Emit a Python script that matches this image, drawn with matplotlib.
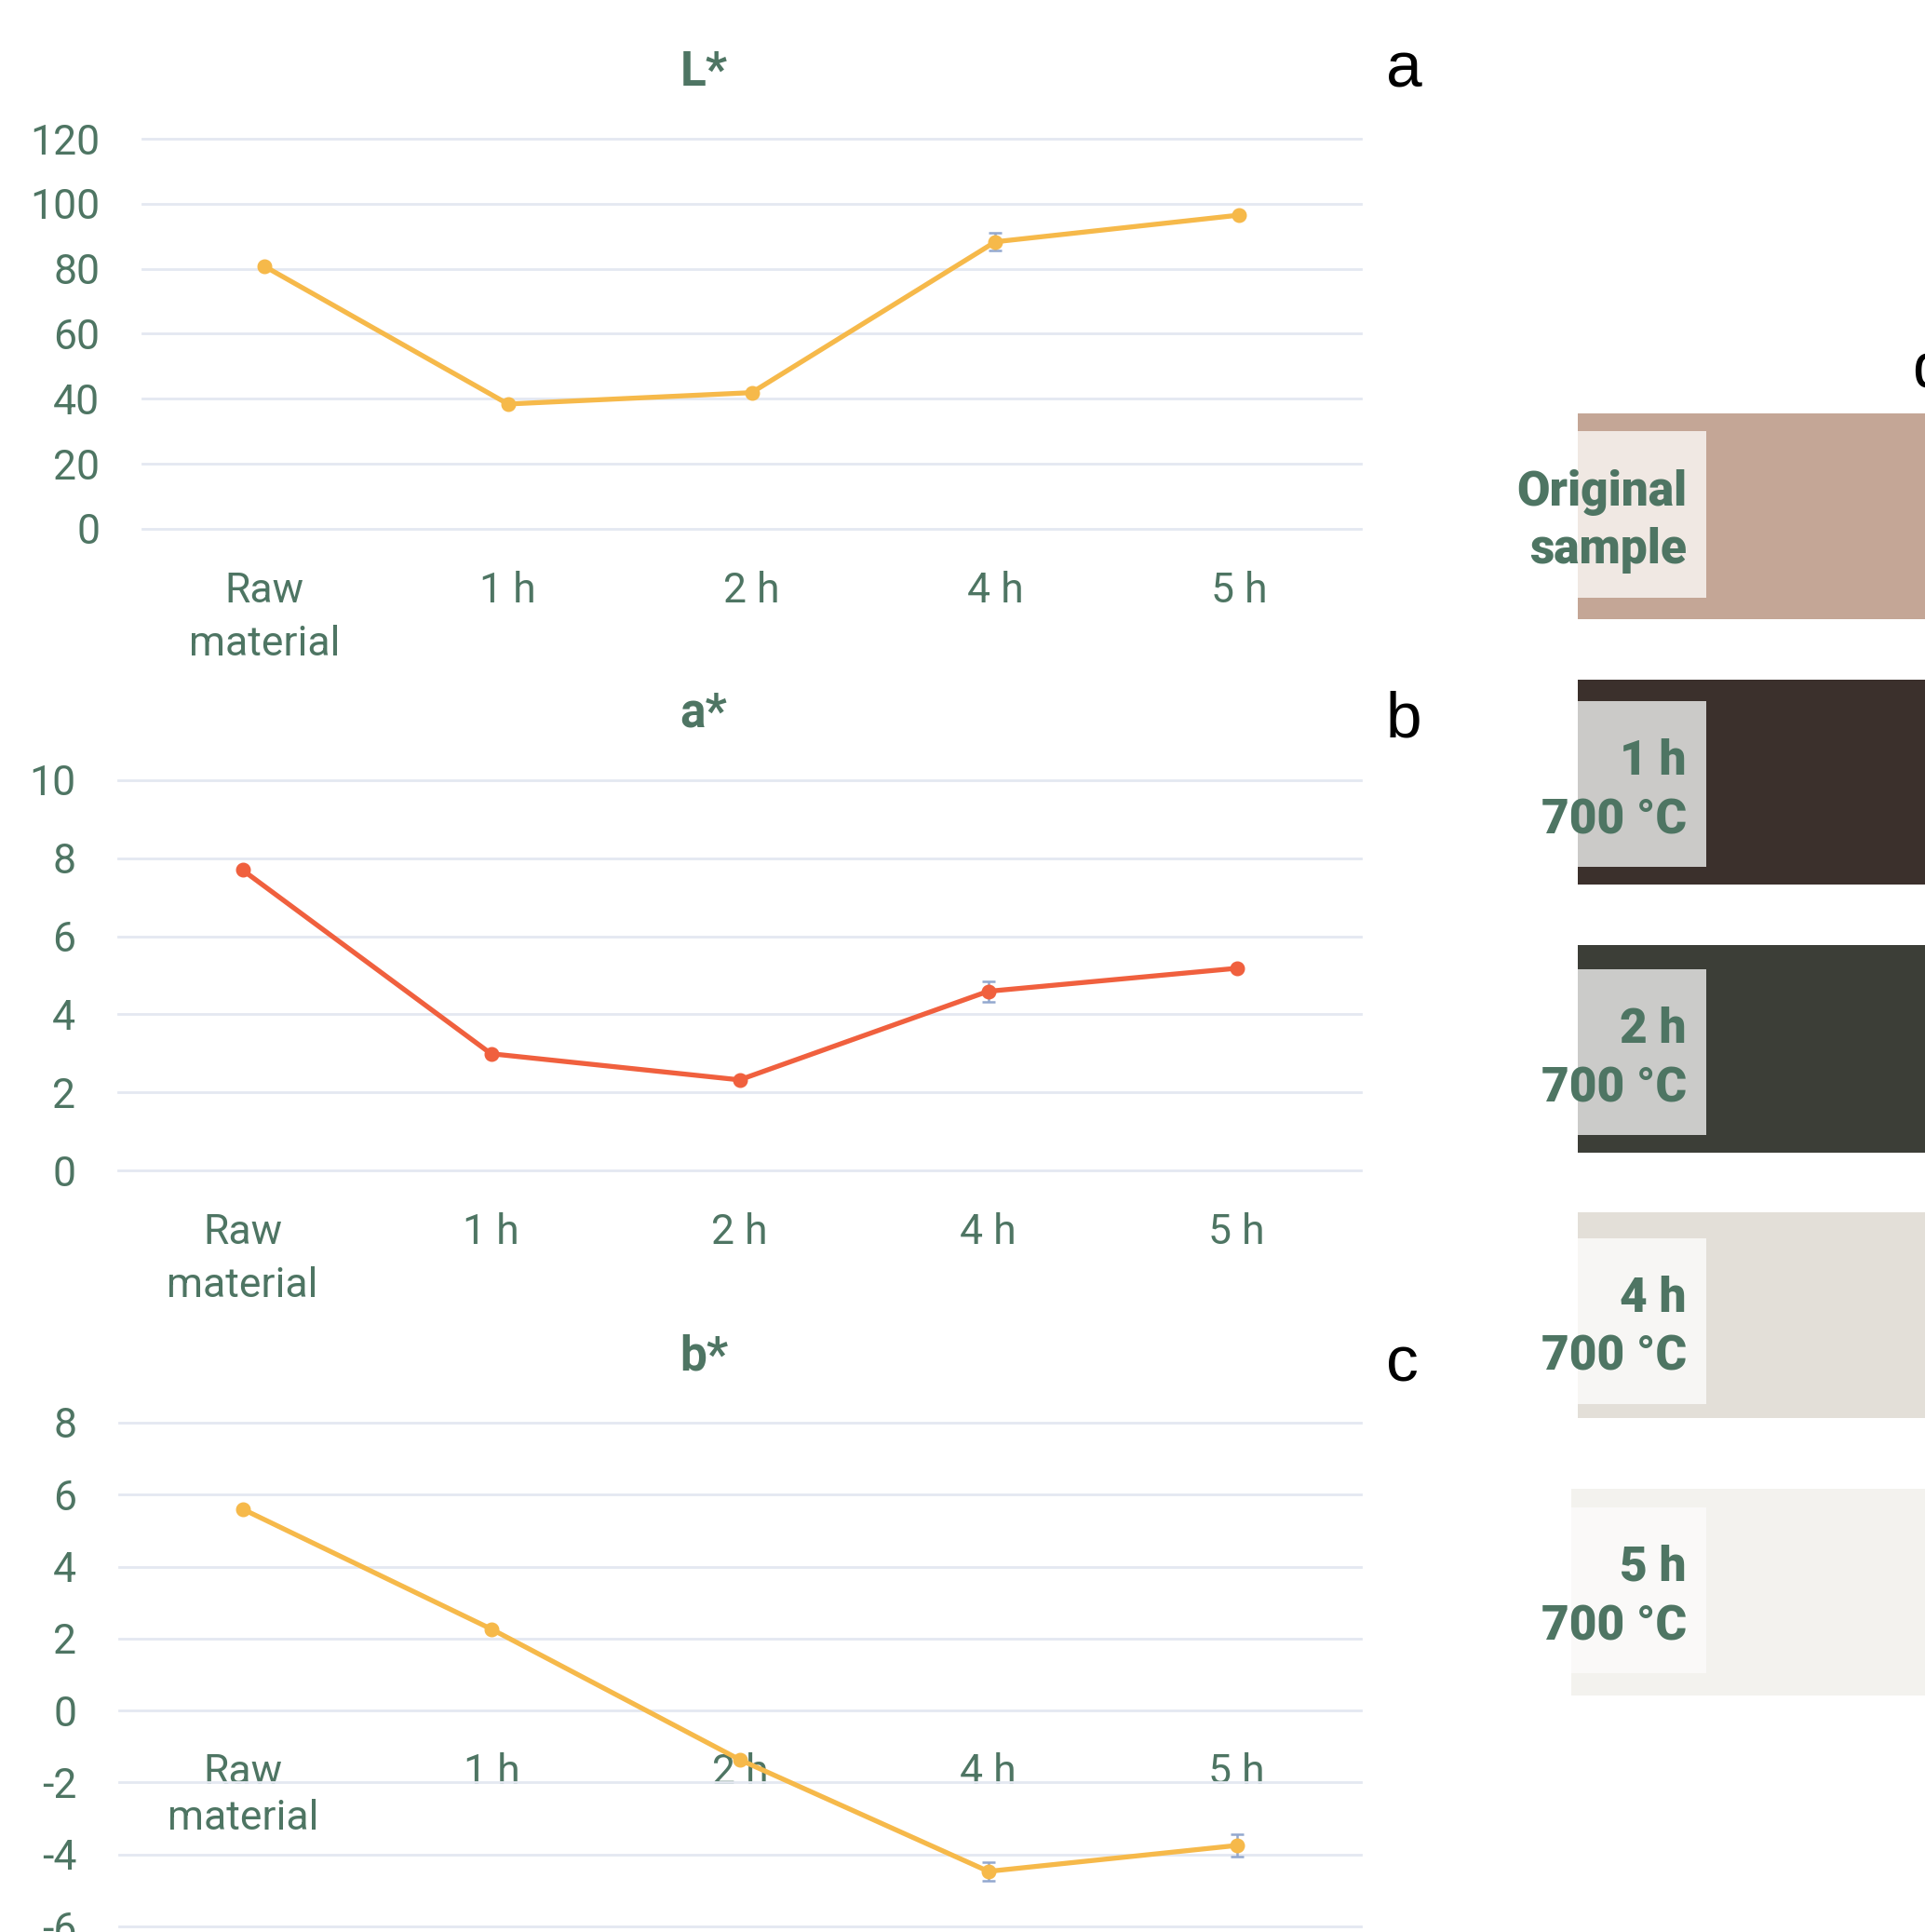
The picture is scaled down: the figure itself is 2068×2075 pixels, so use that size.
import matplotlib
matplotlib.use("Agg")
import matplotlib.pyplot as plt
from matplotlib.patches import Rectangle

# ---- data -------------------------------------------------------------
categories = ["Raw\nmaterial", "1 h", "2 h", "4 h", "5 h"]

L_values = [80.8, 38.4, 41.9, 88.3, 96.5]
L_errors = [0.5, 0.5, 0.5, 2.7, 0.5]

a_values = [7.70, 2.99, 2.32, 4.59, 5.18]
a_errors = [0.05, 0.05, 0.05, 0.26, 0.05]

b_values = [5.59, 2.26, -1.37, -4.47, -3.75]
b_errors = [0.05, 0.05, 0.05, 0.25, 0.32]

L_ticks = [0, 20, 40, 60, 80, 100, 120]
a_ticks = [0, 2, 4, 6, 8, 10]
b_ticks = [-6, -4, -2, 0, 2, 4, 6, 8]

swatch_labels = ["Original\nsample", "1 h\n700 °C", "2 h\n700 °C",
                 "4 h\n700 °C", "5 h\n700 °C"]
swatch_colors = ["#C4A696", "#3B302C", "#3C3E37", "#E3DFD8", "#F3F2EE"]
label_box_colors = ["#F0E8E3", "#CBCAC8", "#CBCBC9", "#F7F6F4", "#FAF9F8"]

# ---- styling ----------------------------------------------------------
W, H = 2068, 2075
TEXT_GREEN = "#4E7563"
GRID = "#E4E8F1"
YELLOW = "#F6B94A"
RED = "#F0603E"
ERR = "#93A8CF"

plt.rcParams["font.family"] = ["Roboto", "DejaVu Sans"]

fig = plt.figure(figsize=(W / 100, H / 100), dpi=100)
fig.patch.set_facecolor("white")


def px_axes(left, top, right, bottom):
    return fig.add_axes([left / W, 1 - bottom / H,
                         (right - left) / W, (bottom - top) / H])


def style_panel(ax, values, errors, color, ticks, title, title_y):
    x = list(range(len(categories)))
    ax.errorbar(x, values, yerr=errors, fmt="none", ecolor=ERR,
                elinewidth=1.8, capsize=5, capthick=1.8, zorder=3)
    ax.plot(x, values, color=color, lw=3.8, marker="o", ms=10.5,
            zorder=4, solid_capstyle="round")
    ax.set_xlim(-0.5, len(categories) - 0.5)
    ax.set_ylim(ticks[0], ticks[-1])
    ax.set_yticks(ticks)
    ax.set_yticklabels([str(t) for t in ticks])
    ax.set_xticks(x)
    ax.set_xticklabels(categories, linespacing=1.45)
    for s in ax.spines.values():
        s.set_visible(False)
    ax.tick_params(axis="y", length=0, pad=33, labelsize=32,
                   labelcolor=TEXT_GREEN)
    ax.tick_params(axis="x", length=0, pad=33, labelsize=32,
                   labelcolor=TEXT_GREEN)
    ax.yaxis.grid(True, color=GRID, lw=2)
    ax.xaxis.grid(False)
    ax.set_axisbelow(True)
    for gl in ax.get_ygridlines():
        gl.set_clip_on(False)
    ax.patch.set_alpha(0)
    fig.text(756 / W, 1 - title_y / H, title, ha="center", va="baseline",
             fontsize=37, fontweight="bold", color=TEXT_GREEN)


ax1 = px_axes(153, 149, 1462, 568)
style_panel(ax1, L_values, L_errors, YELLOW, L_ticks, "L*", 92)

ax2 = px_axes(127, 838, 1462, 1257)
style_panel(ax2, a_values, a_errors, RED, a_ticks, "a*", 780)

ax3 = px_axes(128, 1528, 1462, 2069)
style_panel(ax3, b_values, b_errors, YELLOW, b_ticks, "b*", 1471)
# category labels sit on the zero line
ax3.spines["bottom"].set_position(("data", 0))
ax3.spines["bottom"].set_visible(False)

# ---- panel letters and colour swatches --------------------------------
ov = fig.add_axes([0, 0, 1, 1], zorder=-1)
ov.set_xlim(0, W)
ov.set_ylim(H, 0)
ov.axis("off")

for letter, (lx, ly) in zip(["a", "b", "c", "d"],
                            [(1489, 94), (1489, 791), (1489, 1483),
                             (2054, 415)]):
    ov.text(lx, ly, letter, ha="left", va="baseline", fontsize=50,
            color="black", family=["Liberation Sans", "DejaVu Sans"])

outer_boxes = [(1695, 444, 665), (1695, 730, 950), (1695, 1015, 1238),
               (1695, 1302, 1523), (1688, 1599, 1821)]
inner_boxes = [(463, 642), (753, 931), (1041, 1219), (1330, 1508),
               (1619, 1797)]

for label, col, icol, (ox, ot, ob), (it, ib) in zip(
        swatch_labels, swatch_colors, label_box_colors,
        outer_boxes, inner_boxes):
    ov.add_patch(Rectangle((ox, ot), W - ox, ob - ot, facecolor=col,
                           edgecolor="none"))
    ov.add_patch(Rectangle((ox, it), 1833 - ox, ib - it, facecolor=icol,
                           edgecolor="none"))
    c = (it + ib) / 2
    first, second = label.split("\n")
    ov.text(1812, c - 10, first, ha="right", va="baseline", fontsize=37,
            fontweight="black", color=TEXT_GREEN)
    ov.text(1812, c + 53, second, ha="right", va="baseline", fontsize=37,
            fontweight="black", color=TEXT_GREEN)

fig.savefig("out.png", dpi=100, facecolor="white")
